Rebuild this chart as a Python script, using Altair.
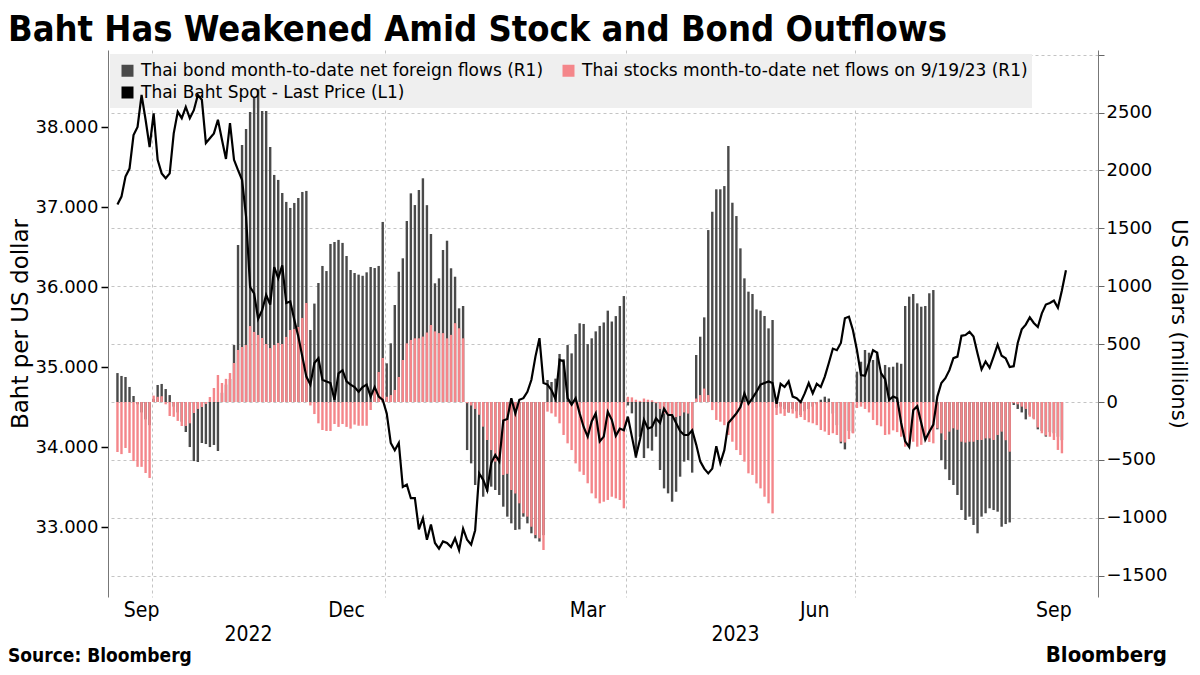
import altair as alt
import pandas as pd

TITLE = "Baht Has Weakened Amid Stock and Bond Outflows"
BOND = "Thai bond month-to-date net foreign flows (R1)"
STOCK = "Thai stocks month-to-date net flows on 9/19/23 (R1)"
BAHT = "Thai Baht Spot - Last Price (L1)"

# Thai bond month-to-date net foreign flows, USD millions (one per trading day, 9/19/22 - 9/19/23)
bond_flows = [
    250, 225, 216, 130, 52, -20, -90, -150, -200,
    25, 147, 156, 112, 60, -40, -90, -170, -259, -389, -510, -518, -354, -363, -389, -371, -423,
    80, 150, 200, 492, 1356, 2220, 2358, 2505, 2635, 2700, 2514, 2514, 2203, 1961, 1918, 1805, 1728, 1676, 1719, 1762, 1814, 1823,
    622, 850, 1028, 1175, 1131, 1365, 1382, 1400, 1374, 1261, 1140, 1114, 1100, 1090, 1120, 1166, 1157, 1175, 1555,
    334, 507, 838, 1125, 1241, 1563, 1802, 1701, 1831, 1932, 1700, 1451, 1025, 1068, 1313, 1393, 1155, 1082, 809, 829,
    -415, -530, -717, -616, -818, -775, -731, -760, -803, -904, -990, -1048, -1105, -1100, -990, -1048, -1134, -1177, -1205, -1150,
    190, 173, 202, 415, 370, 492, 420, 587, 680, 674, 500, 550, 610, 657, 687, 789, 695, 742, 829, 915,
    -30, -98, -484, -300, -484, -400, -420, -300, -587, -746, -789, -861, -775, -645, -515, -501, -610,
    406, 564, 731, 1485, 1643, 1837, 1837, 1865, 2211, 1721, 1606, 1327, 1068, 953, 933, 800, 789, 743, 636, 708,
    -50, -40, -60, -90, -60, -80, -112, -80, -60, -40, -20, 20, 46, 30, -100, -200, -357, -409, -250, -265,
    262, 348, 449, 426, 363, 434, 253, 320, 300, 305, 340, 330, 829, 910, 933, 852, 823, 829, 939, 967,
    -236, -501, -581, -674, -717, -803, -933, -1019, -990, -1062, -1134, -990, -961, -918, -933, -947, -1077, -1054, -1040,
    -26, -60, -90, -150, -110, -140, -236, -250, -299, -260, -270, -300, -330,
]

# Thai stocks month-to-date net flows, USD millions
stock_flows = [
    -432, -450, -397, -440, -510, -560, -560, -613, -656,
    55, 45, 50, -20, -121, -128, -163, -207, -207, -184, -95, -60, -43, -17, 43, 121, 233,
    164, 200, 250, 337, 449, 475, 492, 656, 605, 579, 553, 501, 466, 492, 510, 501, 562, 622, 630, 648, 726, 855,
    -30, -104, -184, -242, -250, -250, -190, -215, -190, -215, -230, -195, -205, -205, -205, -69, 120, 259, 380,
    45, 60, 104, 216, 363, 507, 536, 550, 550, 565, 600, 665, 610, 595, 595, 550, 580, 681, 637, 550,
    -10, -30, -60, -110, -213, -328, -415, -515, -500, -630, -620, -760, -790, -875, -961, -990, -1077, -1149, -1177, -1278,
    -83, -98, -127, -184, -285, -357, -415, -530, -601, -630, -702, -789, -832, -875, -861, -846, -818, -832, -846, -918,
    45, 40, 20, 10, 30, 20, 15, -10, -60, -100, -120, -110, -130, -120, -90, -100, -240,
    30, 60, 116, 60, -70, -155, -170, -200, -285, -343, -415, -458, -515, -616, -630, -703, -746, -818, -875, -962,
    -112, -100, -120, -90, -100, -140, -130, -155, -175, -184, -200, -242, -255, -285, -270, -285, -343, -350, -320, -271,
    -52, -40, -60, -90, -155, -200, -210, -285, -280, -245, -260, -300, -386, -360, -343, -386, -370, -330, -345, -357,
    -227, -271, -328, -256, -227, -240, -343, -350, -343, -343, -328, -328, -314, -314, -328, -285, -256, -330, -429,
    -10, -20, -40, -60, -127, -150, -220, -270, -290, -300, -328, -414, -443,
]

# Thai Baht spot, baht per US dollar
baht_spot = [
    37.03, 37.13, 37.38, 37.48, 37.90, 38.00, 38.40, 38.09, 37.75, 38.17,
    37.59, 37.42, 37.36, 37.42, 37.92, 38.19, 38.11, 38.25, 38.11, 38.21,
    38.40, 38.34, 37.80, 37.86, 37.92, 38.09, 37.84, 37.60, 38.05,
    37.59, 37.46, 37.34, 36.88, 36.00, 35.92, 35.60, 35.71, 35.90, 35.78,
    36.25, 36.11, 36.27, 35.80, 35.82, 35.59, 35.38, 35.13, 34.88, 34.78,
    35.05, 35.11, 34.84, 34.82, 34.80, 34.59, 34.92, 34.96, 34.82, 34.78,
    34.75, 34.69, 34.75, 34.78, 34.63, 34.75, 34.63, 34.59,
    34.42, 34.05, 33.96, 34.05, 33.50, 33.53, 33.36, 33.36, 32.97,
    33.11, 32.84, 33.03, 32.80, 32.73, 32.82, 32.80, 32.75, 32.86, 32.71,
    32.98, 32.84, 32.78, 32.96, 33.67, 33.59, 33.46, 33.80, 33.90,
    33.82, 34.33, 34.35, 34.61, 34.42, 34.59, 34.61, 34.69, 34.84, 35.13,
    35.36, 34.80, 34.78, 34.71, 34.60, 35.09, 35.07, 34.61, 34.53,
    34.61, 34.42, 34.25, 34.13, 34.32, 34.42, 34.07, 34.13, 34.44, 34.34,
    34.14, 34.23, 34.21, 34.38, 34.13, 33.88, 34.09, 34.34, 34.23, 34.25,
    34.36,
    34.30, 34.48, 34.40, 34.40, 34.30, 34.20, 34.15, 34.15, 34.21,
    34.03, 33.82, 33.73, 33.67, 33.73, 34.01, 33.80, 33.96, 34.30, 34.36,
    34.42, 34.50, 34.67, 34.54, 34.61, 34.69, 34.78, 34.80, 34.82, 34.80,
    34.54, 34.79, 34.75, 34.82, 34.63, 34.61, 34.56, 34.67, 34.80, 34.67,
    34.79, 34.75, 34.88, 35.05, 35.23, 35.21, 35.30, 35.61, 35.63, 35.46,
    35.21, 34.90, 34.89, 35.05, 35.21, 35.18, 34.92, 34.85, 34.59, 34.63,
    34.61, 34.30, 34.07, 34.00, 34.46, 34.51, 34.30, 34.09, 34.19,
    34.28, 34.63, 34.80, 34.86, 34.96, 35.11, 35.13, 35.39, 35.40,
    35.44, 35.38, 35.17, 34.97, 35.07, 34.99, 35.13, 35.28, 35.14, 35.11,
    35.00, 35.01, 35.30, 35.47, 35.53, 35.62, 35.55, 35.50, 35.67, 35.78,
    35.80, 35.83, 35.74, 35.96, 36.21,
]

# x-axis labels (trading-day index positions)
month_labels = ["Sep", "Dec", "Mar", "Jun", "Sep"]
month_label_pos = [6, 57, 117, 173.5, 233]
year_labels = ["2022", "2023"]
year_label_pos = [32.6, 153.8]
quarter_breaks = [8.5, 66.5, 126.5, 183.5]

left_ticks = [33, 34, 35, 36, 37, 38]
right_ticks = [-1500, -1000, -500, 0, 500, 1000, 1500, 2000, 2500, 3000]

bond_df = pd.DataFrame({"idx": list(range(len(bond_flows))), "value": bond_flows, "series": BOND})
stock_df = pd.DataFrame({"idx": list(range(len(stock_flows))), "value": stock_flows, "series": STOCK})
baht_df = pd.DataFrame({"idx": list(range(len(baht_spot))), "price": baht_spot, "series": BAHT})
month_df = pd.DataFrame({"pos": month_label_pos, "label": month_labels})
year_df = pd.DataFrame({"pos": year_label_pos, "label": year_labels})

FONT = "DejaVu Sans"
COND = "DejaVu Sans Condensed, Liberation Sans Narrow, DejaVu Sans"
GRID = "#c4c4c4"

x_scale = alt.Scale(domain=[-1.11, 242.73], nice=False, zero=False)
x_axis = alt.Axis(values=quarter_breaks, grid=True, gridDash=[3, 3], gridColor=GRID,
                  labels=False, ticks=False, domain=False, title=None)
# legend is laid out column by column: order chosen so row 1 = bond, stocks; row 2 = baht
color_scale = alt.Scale(domain=[BOND, BAHT, STOCK], range=["#4a4a4a", "#000000", "#f4868a"])
legend = alt.Legend(title=None, orient="none", legendX=3, legendY=4, columns=2,
                    symbolType="square", symbolSize=144, symbolStrokeWidth=0,
                    labelFontSize=17, labelFont=FONT, labelColor="#000000", labelLimit=0,
                    labelOffset=5, padding=8, columnPadding=16, rowPadding=4)

flow_scale = alt.Scale(domain=[-1684, 3040], nice=False, zero=False)
flow_axis = alt.Axis(orient="right", values=right_ticks,
                     labelExpr="datum.value == 3000 ? '' : format(datum.value, 'd')",
                     grid=True, gridDash=[3, 3], gridColor=GRID,
                     labelFontSize=18, labelFont=FONT, labelColor="#000000", labelPadding=2,
                     tickSize=6, tickColor="#666666", domainColor="#777777",
                     title="US dollars (millions)", titleFontSize=21, titleFont=FONT,
                     titleFontWeight="normal", titleColor="#000000", titlePadding=1)

# light grey panel behind the legend (drawn beneath the data, as in the original)
legend_panel = alt.Chart(pd.DataFrame({"k": [0]})).mark_rect(color="#efefef").encode(
    x=alt.value(2), x2=alt.value(924), y=alt.value(4), y2=alt.value(58))

gray_bars = alt.Chart(bond_df).mark_bar(size=2.4).encode(
    x=alt.X("idx:Q", scale=x_scale, axis=x_axis),
    y=alt.Y("value:Q", scale=flow_scale, axis=flow_axis),
    color=alt.Color("series:N", scale=color_scale, legend=legend),
)
red_bars = alt.Chart(stock_df).mark_bar(size=2.4).encode(
    x=alt.X("idx:Q", scale=x_scale, axis=x_axis),
    y=alt.Y("value:Q", scale=flow_scale, axis=flow_axis),
    color=alt.Color("series:N", scale=color_scale, legend=legend),
)
flows = alt.layer(gray_bars, red_bars)

baht_line = alt.Chart(baht_df).mark_line(strokeWidth=2.2).encode(
    x=alt.X("idx:Q", scale=x_scale, axis=x_axis),
    y=alt.Y("price:Q", scale=alt.Scale(domain=[32.125, 38.9625], nice=False, zero=False),
            axis=alt.Axis(orient="left", values=left_ticks, format=".3f", grid=False,
                          labelFontSize=18, labelFont=FONT, labelColor="#000000", labelPadding=3,
                          tickSize=7, tickColor="#000000", tickWidth=1.5, domainColor="#777777",
                          title="Baht per US dollar", titleFontSize=23, titleFont=FONT,
                          titleFontWeight="normal", titleColor="#000000", titlePadding=3)),
    color=alt.Color("series:N", scale=color_scale, legend=legend),
)

month_text = alt.Chart(month_df).mark_text(fontSize=21, font=COND, color="#000000", baseline="middle").encode(
    x=alt.X("pos:Q", scale=x_scale, axis=x_axis), y=alt.value(561), text="label:N")
year_text = alt.Chart(year_df).mark_text(fontSize=21, font=COND, color="#000000", baseline="middle").encode(
    x=alt.X("pos:Q", scale=x_scale, axis=x_axis), y=alt.value(585), text="label:N")

title_text = alt.Chart(pd.DataFrame({"t": [TITLE]})).mark_text(
    fontSize=36, font=COND, fontWeight="bold", align="left", baseline="alphabetic", color="#000000"
).encode(x=alt.value(-100), y=alt.value(-9), text="t:N")
source_text = alt.Chart(pd.DataFrame({"t": ["Source: Bloomberg"]})).mark_text(
    fontSize=19, font=COND, fontWeight="bold", align="left", baseline="alphabetic", color="#000000"
).encode(x=alt.value(-100), y=alt.value(612), text="t:N")
brand_text = alt.Chart(pd.DataFrame({"t": ["Bloomberg"]})).mark_text(
    fontSize=22, font=COND, fontWeight="bold", align="right", baseline="alphabetic", color="#000000"
).encode(x=alt.value(1059), y=alt.value(612), text="t:N")

chart = alt.layer(
    legend_panel, flows, baht_line, month_text, year_text, title_text, source_text, brand_text
).resolve_scale(y="independent").properties(
    width=990, height=547,
    padding={"left": 100, "top": 42, "right": 94, "bottom": 70},
    autosize=alt.AutoSizeParams(type="none"),
    background="#ffffff",
).configure_view(strokeWidth=0)

chart.save("out.html", embed_options={"renderer": "svg", "actions": False})
